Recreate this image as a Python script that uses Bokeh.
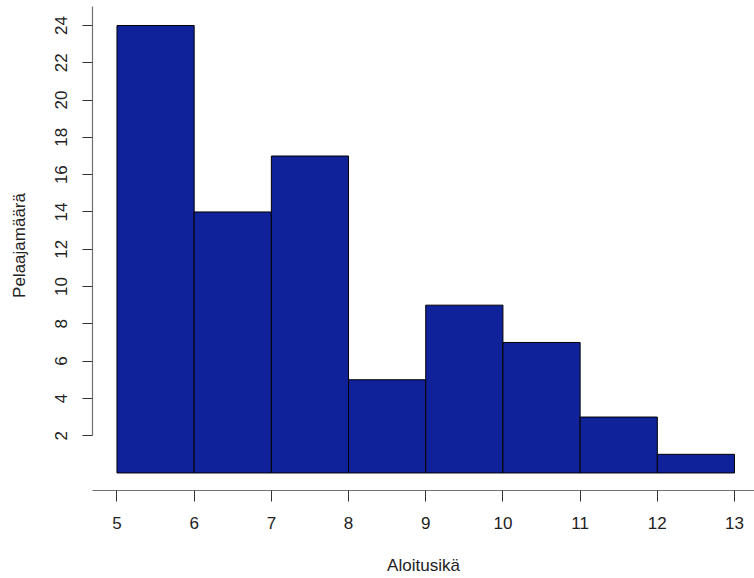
from bokeh.plotting import figure
from bokeh.models import Range1d, FixedTicker, ColumnDataSource
from bokeh.embed import file_html
from bokeh.resources import INLINE

# Data
bin_left = [5, 6, 7, 8, 9, 10, 11, 12]
bin_right = [6, 7, 8, 9, 10, 11, 12, 13]
counts = [24, 14, 17, 5, 9, 7, 3, 1]
x_ticks = [5, 6, 7, 8, 9, 10, 11, 12, 13]
y_ticks = [2, 4, 6, 8, 10, 12, 14, 16, 18, 20, 22, 24]

src = ColumnDataSource(dict(left=bin_left, right=bin_right, top=counts, bottom=[0] * len(counts)))

p = figure(width=754, height=578, output_backend="svg", toolbar_location=None,
           x_range=Range1d(4.683, 13.259), y_range=Range1d(-0.94, 25.34),
           min_border_left=92, min_border_right=0, min_border_top=0, min_border_bottom=88)
p.outline_line_color = None
p.xgrid.visible = False
p.ygrid.visible = False
p.background_fill_color = "white"
p.border_fill_color = "white"

p.quad(left="left", right="right", top="top", bottom="bottom", source=src,
       fill_color="#10229A", line_color="black", line_width=1)

FONT = "Liberation Sans"
for ax in (p.xaxis[0], p.yaxis[0]):
    ax.axis_line_color = "#707070"
    ax.axis_line_width = 1.2
    ax.major_tick_line_color = "#333333"
    ax.major_tick_in = 0
    ax.minor_tick_out = 0
    ax.minor_tick_in = 0
    ax.major_label_text_font = FONT
    ax.major_label_text_font_size = "17px"
    ax.major_label_text_color = "#222222"
    ax.axis_label_text_font = FONT
    ax.axis_label_text_font_size = "17px"
    ax.axis_label_text_font_style = "normal"
    ax.axis_label_text_color = "#222222"

p.xaxis[0].ticker = FixedTicker(ticks=x_ticks)
p.xaxis[0].bounds = (4.683, 14)
p.xaxis[0].axis_label = "Aloitusikä"
p.xaxis[0].major_tick_out = 11
p.xaxis[0].major_label_standoff = 15
p.xaxis[0].axis_label_standoff = 24

p.yaxis[0].ticker = FixedTicker(ticks=y_ticks)
p.yaxis[0].bounds = (2, 25)
p.yaxis[0].axis_label = "Pelaajamäärä"
p.yaxis[0].major_tick_out = 10
p.yaxis[0].major_label_orientation = "vertical"
p.yaxis[0].major_label_standoff = 15
p.yaxis[0].axis_label_standoff = 24

open("out.html", "w").write(file_html(p, INLINE))
